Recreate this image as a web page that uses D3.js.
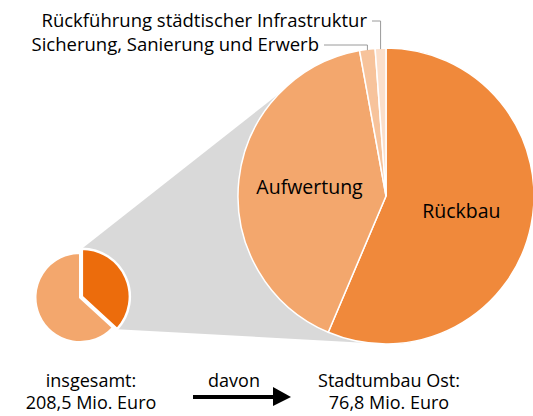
<!DOCTYPE html>
<html>
<head>
<meta charset="utf-8">
<script src="https://cdn.jsdelivr.net/npm/d3@7"></script>
<style>
  body { margin: 0; background: #fff; }
  text { font-family: "Open Sans", sans-serif; fill: #000; }
</style>
</head>
<body>
<svg id="chart" width="533" height="416"></svg>
<script>

// Gesamt vs. Stadtumbau Ost (Mio. Euro)
var totalLabels = ['Stadtumbau Ost', 'Sonstige']
var totalValues = [76.8, 131.7]

// Aufteilung Stadtumbau Ost (Mio. Euro)
var partLabels = ['Rückbau', 'Aufwertung', 'Sicherung, Sanierung und Erwerb', 'Rückführung städtischer Infrastruktur']
var partValues = [43.3, 31.3, 1.3, 0.9]

var partColors = ['#f0893b', '#f3a76d', '#f7c39b', '#fbdfcb']
var totalColors = ['#ec6c0c', '#f3a76d']

var svg = d3.select('#chart')

var small = {cx: 80, cy: 297.5, r: 44.5}
var big = {cx: 386, cy: 196, r: 148}

var pie = d3.pie().sort(null).value(function(d) { return d; })
var totalArcs = pie(totalValues)
var partArcs = pie(partValues)

// explode offset of the first (dark) slice
var ex = 2
var darkMid = (totalArcs[0].startAngle + totalArcs[0].endAngle) / 2
var darkC = {x: small.cx + ex * Math.sin(darkMid), y: small.cy - ex * Math.cos(darkMid), r: 48}

function pt(c, r, a) { return [c.x + r * Math.sin(a), c.y - r * Math.cos(a)] }

// grey connector behind the pies
var bigC = {x: big.cx, y: big.cy}
var conn = [
	pt(darkC, darkC.r, totalArcs[0].startAngle),
	pt(bigC, big.r, 314 * Math.PI / 180),
	[big.cx, big.cy],
	pt(bigC, big.r, 187 * Math.PI / 180),
	pt(darkC, darkC.r, totalArcs[0].endAngle)
]
svg.append('polygon')
	.attr('points', conn.map(function(p) { return p.join(','); }).join(' '))
	.attr('fill', '#d9d9d9')

// small pie
var smallG = svg.append('g').attr('transform', 'translate(' + small.cx + ',' + small.cy + ')')
smallG.append('path')
	.attr('d', d3.arc().innerRadius(0).outerRadius(small.r)(totalArcs[1]))
	.attr('fill', totalColors[1])
	.attr('stroke', '#fff').attr('stroke-width', 2)
smallG.append('path')
	.attr('transform', 'translate(' + (darkC.x - small.cx) + ',' + (darkC.y - small.cy) + ')')
	.attr('d', d3.arc().innerRadius(0).outerRadius(darkC.r)(totalArcs[0]))
	.attr('fill', totalColors[0])
	.attr('stroke', '#fff').attr('stroke-width', 2.5)

// big pie
var bigArc = d3.arc().innerRadius(0).outerRadius(big.r)
var bigG = svg.append('g').attr('transform', 'translate(' + big.cx + ',' + big.cy + ')')
bigG.selectAll('path')
	.data(partArcs)
	.enter()
	.append('path')
	.attr('d', bigArc)
	.attr('fill', function(d, i) { return partColors[i]; })
	.attr('stroke', '#fff')
	.attr('stroke-width', 1.5)

var labelArc = d3.arc().innerRadius(big.r * 0.52).outerRadius(big.r * 0.52)
bigG.selectAll('text.inner')
	.data(partArcs.slice(0, 2))
	.enter()
	.append('text')
	.attr('class', 'inner')
	.attr('transform', function(d) { return 'translate(' + labelArc.centroid(d) + ')'; })
	.attr('text-anchor', 'middle')
	.attr('dy', '0.35em')
	.style('font-size', '19.5px')
	.text(function(d, i) { return partLabels[i]; })

// leader labels for the two tiny slices
var leaderY = [45, 21]
var textEnd = [319, 367]
partArcs.slice(2).forEach(function(d, k) {
	var mid = (d.startAngle + d.endAngle) / 2
	var p = pt(bigC, big.r - 1, mid)
	svg.append('polyline')
		.attr('points', [[textEnd[k] + 5, leaderY[k]], [p[0], leaderY[k]], [p[0], p[1]]].map(function(q) { return q.join(','); }).join(' '))
		.attr('fill', 'none')
		.attr('stroke', '#9a9a9a')
		.attr('stroke-width', 1)
	svg.append('text')
		.attr('x', textEnd[k])
		.attr('y', leaderY[k])
		.attr('dy', '0.35em')
		.attr('text-anchor', 'end')
		.style('font-size', '18.5px')
		.text(partLabels[k + 2])
})

// bottom captions
function caption(x, lines) {
	var t = svg.append('text')
		.attr('text-anchor', 'middle')
		.style('font-size', '18px')
	lines.forEach(function(l, i) {
		t.append('tspan').attr('x', x).attr('y', 387 + i * 22).text(l)
	})
}
var fmt = function(v) { return d3.format('.1f')(v).replace('.', ',') + ' Mio. Euro'; }
caption(91, ['insgesamt:', fmt(d3.sum(totalValues))])
caption(389, ['Stadtumbau Ost:', fmt(totalValues[0])])

svg.append('text')
	.attr('x', 234).attr('y', 387)
	.attr('text-anchor', 'middle')
	.style('font-size', '18px')
	.text('davon')

svg.append('line')
	.attr('x1', 193).attr('y1', 397).attr('x2', 275).attr('y2', 397)
	.attr('stroke', '#000').attr('stroke-width', 4)
svg.append('polygon')
	.attr('points', '273,387 291,397 273,406')
	.attr('fill', '#000')

</script>
</body>
</html>
